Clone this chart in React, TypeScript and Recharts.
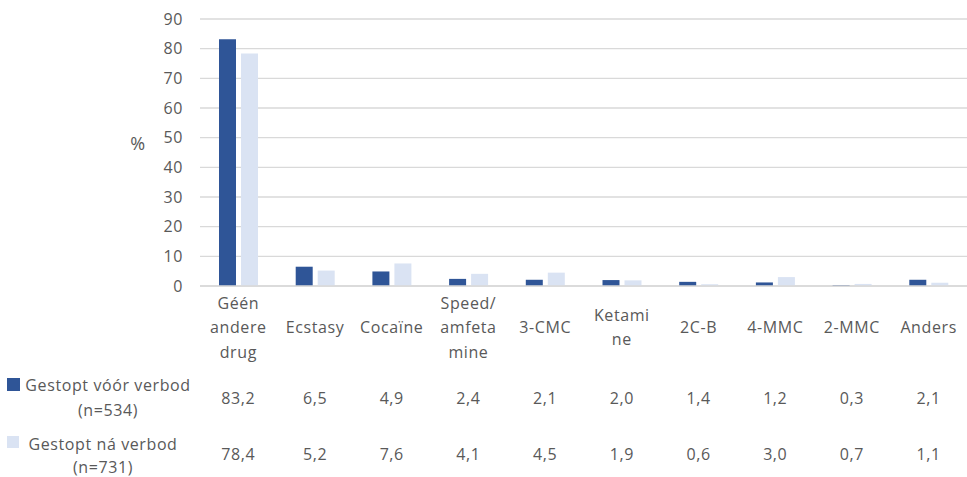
import React from 'react';
import { BarChart, Bar, XAxis, YAxis, CartesianGrid, Customized } from 'recharts';

const categories = ['Géén andere drug', 'Ecstasy', 'Cocaïne', 'Speed/ amfetamine', '3-CMC', 'Ketamine', '2C-B', '4-MMC', '2-MMC', 'Anders'];
const categoryLines = [
  ['Géén', 'andere', 'drug'],
  ['Ecstasy'],
  ['Cocaïne'],
  ['Speed/', 'amfeta', 'mine'],
  ['3-CMC'],
  ['Ketami', 'ne'],
  ['2C-B'],
  ['4-MMC'],
  ['2-MMC'],
  ['Anders'],
];
const voorVerbod = [83.2, 6.5, 4.9, 2.4, 2.1, 2.0, 1.4, 1.2, 0.3, 2.1];
const naVerbod = [78.4, 5.2, 7.6, 4.1, 4.5, 1.9, 0.6, 3.0, 0.7, 1.1];
const yTicks = [0, 10, 20, 30, 40, 50, 60, 70, 80, 90];
const seriesNames = ['Gestopt vóór verbod', 'Gestopt ná verbod'];
const seriesN = ['(n=534)', '(n=731)'];
const yAxisTitle = '%';

const DARK = '#2F5597';
const LIGHT = '#DAE3F3';
const TEXT = '#595959';
const GRID = '#D9D9D9';
const FONT = '"Open Sans", sans-serif';

const data = categories.map((c, i) => ({ name: c, voor: voorVerbod[i], na: naVerbod[i] }));

const fmt = (v: number) => v.toFixed(1).replace('.', ',');

const txt = { fontFamily: FONT, fontSize: 16, fill: TEXT, letterSpacing: 0.6 } as const;

const XTick = (props: any) => {
  const { x, y, index } = props;
  const lines = categoryLines[index] || [];
  const step = 24.5;
  const mid = y + 41.5;
  const first = mid - ((lines.length - 1) * step) / 2;
  return (
    <g>
      {lines.map((l, k) => (
        <text key={k} x={x} y={first + k * step + 5.5} textAnchor="middle" style={txt}>
          {l}
        </text>
      ))}
      <text x={x} y={y + 112 + 5.5} textAnchor="middle" style={txt}>
        {fmt(voorVerbod[index])}
      </text>
      <text x={x} y={y + 168 + 5.5} textAnchor="middle" style={txt}>
        {fmt(naVerbod[index])}
      </text>
    </g>
  );
};

const Extras = () => (
  <g>
    <text x={138} y={143.5 + 6.5} textAnchor="middle" style={{ ...txt, fontSize: 18 }}>{yAxisTitle}</text>
    <rect x={7} y={378} width={13} height={13} fill={DARK} />
    <text x={108} y={385 + 5.5} textAnchor="middle" style={txt}>{seriesNames[0]}</text>
    <text x={108} y={410 + 5.5} textAnchor="middle" style={txt}>{seriesN[0]}</text>
    <rect x={7} y={436} width={12} height={12} fill={LIGHT} />
    <text x={103} y={444 + 5.5} textAnchor="middle" style={txt}>{seriesNames[1]}</text>
    <text x={103} y={467 + 5.5} textAnchor="middle" style={txt}>{seriesN[1]}</text>
  </g>
);

export default function App() {
  return (
    <div style={{ position: 'absolute', left: 0, top: 0, width: 967, height: 477, background: '#fff' }}>
      <BarChart
        width={967}
        height={477}
        data={data}
        margin={{ top: 19, right: 0, left: 140, bottom: 0 }}
        barSize={17}
        barGap={5}
      >
        <CartesianGrid vertical={false} stroke={GRID} strokeWidth={1.3} />
        <XAxis
          dataKey="name"
          height={191}
          tickLine={false}
          tickSize={0}
          tickMargin={0}
          axisLine={{ stroke: GRID, strokeWidth: 1.3 }}
          interval={0}
          tick={<XTick />}
        />
        <YAxis
          width={60}
          domain={[0, 90]}
          ticks={yTicks}
          axisLine={false}
          tickLine={false}
          tickSize={0}
          tickMargin={17}
          tick={{ ...txt }}
        />
        <Bar dataKey="voor" fill={DARK} isAnimationActive={false} />
        <Bar dataKey="na" fill={LIGHT} isAnimationActive={false} />
        <Customized component={<Extras />} />
      </BarChart>
    </div>
  );
}
